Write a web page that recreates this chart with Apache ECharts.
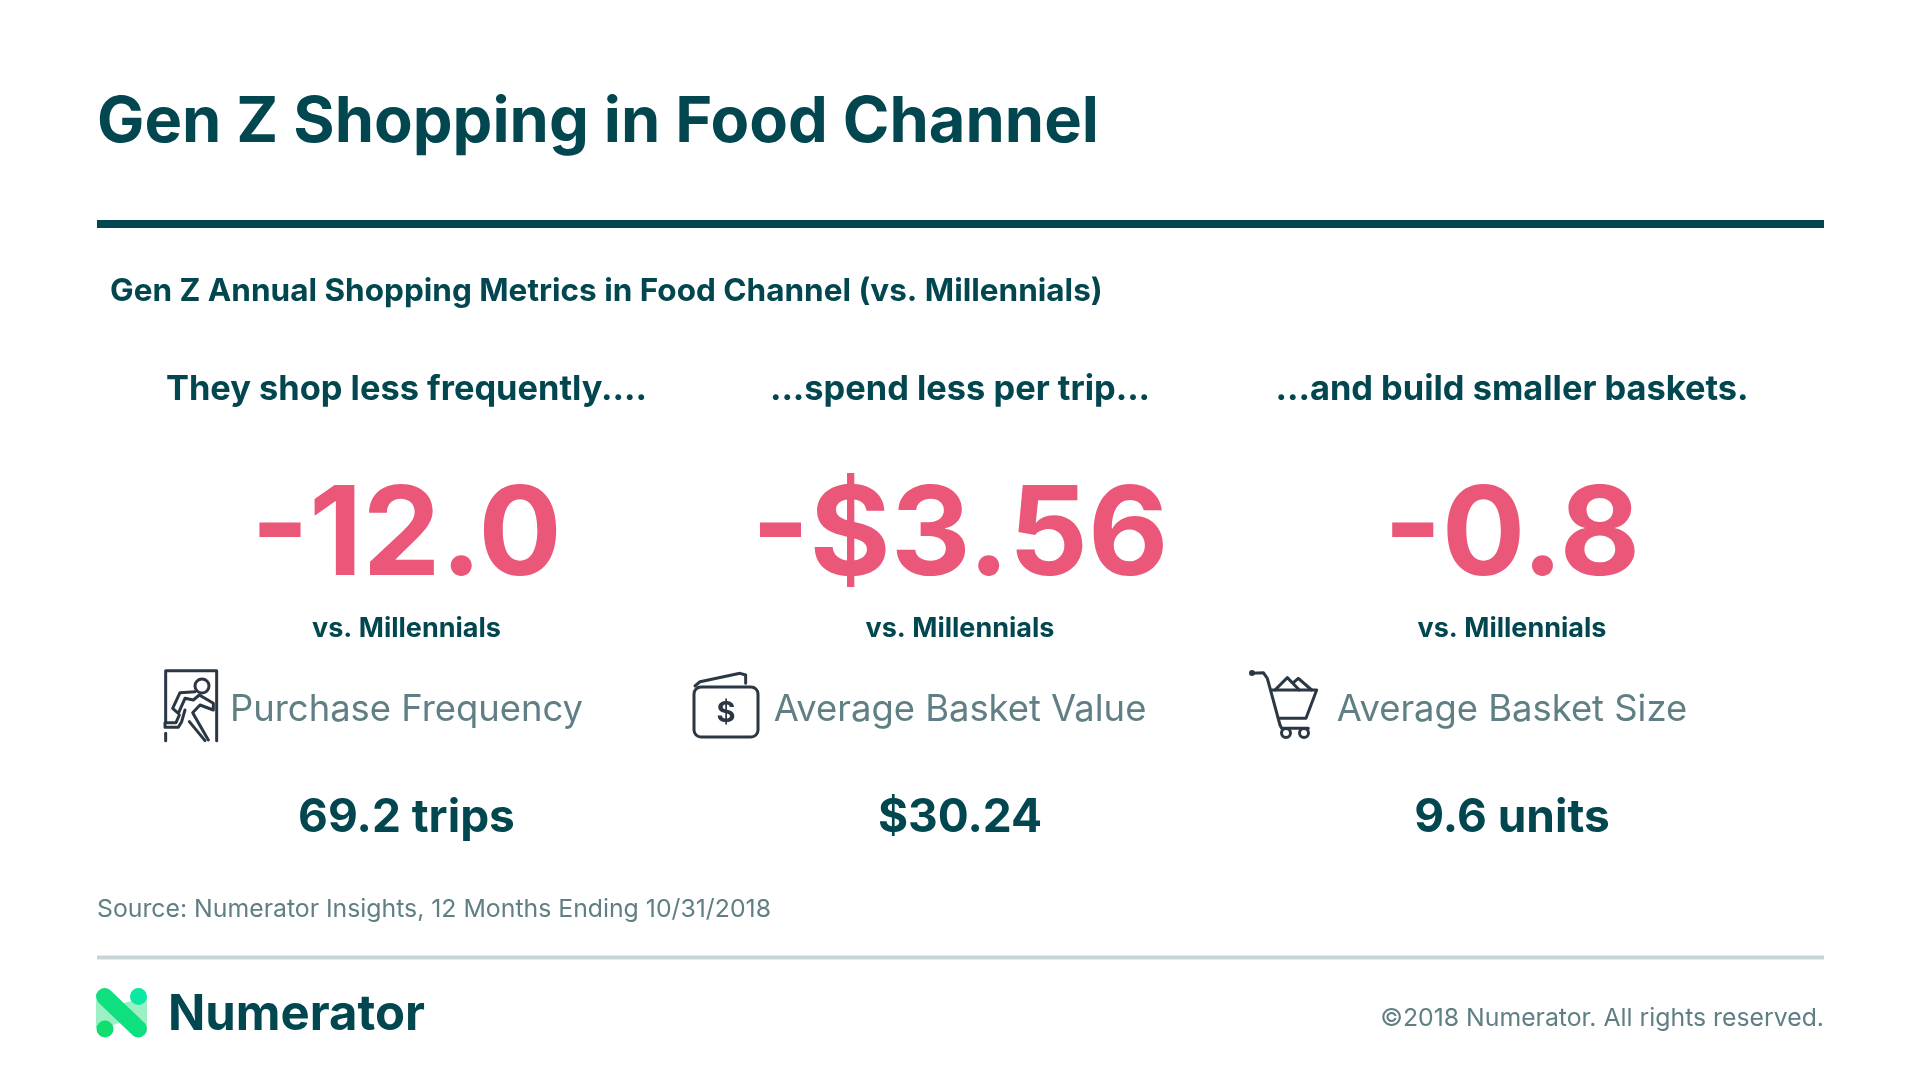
<!DOCTYPE html>
<html>
<head>
<meta charset="utf-8">
<title>Gen Z Shopping in Food Channel</title>
<script src="https://cdn.jsdelivr.net/npm/echarts@6/dist/echarts.min.js"></script>
<style>
  html, body { margin: 0; padding: 0; background: #fff; }
  #chart { width: 1920px; height: 1080px; }
</style>
</head>
<body>
<div id="chart"></div>
<script>
// values
const pageTitle = 'Gen Z Shopping in Food Channel';
const subTitle = 'Gen Z Annual Shopping Metrics in Food Channel (vs. Millennials)';
const columnHeads = ['They shop less frequently....', '...spend less per trip...', '...and build smaller baskets.'];
const deltas = ['-12.0', '-$3.56', '-0.8'];
const vsLabels = ['vs. Millennials', 'vs. Millennials', 'vs. Millennials'];
const metricNames = ['Purchase Frequency', 'Average Basket Value', 'Average Basket Size'];
const metricValues = ['69.2 trips', '$30.24', '9.6 units'];
const sourceNote = 'Source: Numerator Insights, 12 Months Ending 10/31/2018';
const copyright = '©2018 Numerator. All rights reserved.';
const brandName = 'Numerator';

const columnCenters = [406.5, 960, 1512];
const DARK = '#02474f';
const PINK = '#ea5778';
const GREY = '#5f7f84';
const ICON = '#2b3743';
const FONT = 'Inter, sans-serif';

function label(text, x, y, size, weight, fill, align) {
    return {
        type: 'text', x: x, y: y, silent: true,
        style: {
            text: text, fill: fill, align: align || 'center', verticalAlign: 'middle',
            textAlign: align || 'center', textVerticalAlign: 'middle',
            font: weight + ' ' + size + 'px ' + FONT
        }
    };
}

function pts(ox, oy, arr) {
    return arr.map(p => [ox + p[0] / 3, oy + p[1] / 3]);
}
function stroke(ox, oy, arr, width) {
    return {
        type: 'polyline', silent: true,
        shape: { points: pts(ox, oy, arr) },
        style: { stroke: ICON, fill: null, lineWidth: width || 3, lineJoin: 'round', lineCap: 'round' }
    };
}
function ringAt(cx, cy, r) {
    return {
        type: 'circle', silent: true, shape: { cx: cx, cy: cy, r: r },
        style: { stroke: ICON, fill: '#fff', lineWidth: 3 }
    };
}

const elements = [];

elements.push(label(pageTitle, 97, 123, 63.2, 700, DARK, 'left'));
elements.push({ type: 'rect', silent: true, shape: { x: 97, y: 220, width: 1727, height: 8 }, style: { fill: DARK } });
elements.push(label(subTitle, 110, 292, 31.5, 700, DARK, 'left'));

columnCenters.forEach((cx, i) => {
    elements.push(label(columnHeads[i], cx, 390, 34.4, 700, DARK));
    elements.push(label(deltas[i], cx, 538, 124, 700, PINK));
    elements.push(label(vsLabels[i], cx, 629, 27, 700, DARK));
    elements.push(label(metricNames[i], cx, 710, 36.4, 400, GREY));
    elements.push(label(metricValues[i], cx, 818, 46, 700, DARK));
});

elements.push(label(sourceNote, 97, 910, 24.8, 400, GREY, 'left'));
elements.push({ type: 'rect', silent: true, shape: { x: 97, y: 955.5, width: 1727, height: 4 }, style: { fill: '#c8d5d7' } });
elements.push(label(copyright, 1824, 1019, 24.8, 400, GREY, 'right'));
elements.push(label(brandName, 168, 1015, 49, 700, DARK, 'left'));

// exit icon
elements.push(stroke(150, 650, [[47, 215], [47, 62], [200, 62], [200, 272]]));
elements.push(stroke(150, 650, [[47, 250], [47, 272]]));
elements.push(ringAt(202, 686, 7));
elements.push(stroke(150, 650, [[135, 125], [90, 128], [68, 175], [85, 190], [105, 145], [130, 150], [148, 135], [190, 160], [190, 180], [150, 165], [128, 188], [175, 270]]));
elements.push(stroke(150, 650, [[105, 180], [95, 215], [85, 232], [45, 232], [45, 218], [78, 218], [88, 195]]));
elements.push(stroke(150, 650, [[118, 215], [165, 272]]));

// wallet icon
elements.push({
    type: 'rect', silent: true,
    shape: { x: 694, y: 687, width: 64, height: 50, r: 7 },
    style: { stroke: ICON, fill: '#fff', lineWidth: 3 }
});
elements.push(stroke(680, 650, [[45, 108], [60, 95], [180, 70], [197, 75], [197, 100]]));
elements.push({
    type: 'text', x: 726, y: 713, silent: true,
    style: { text: '$', fill: ICON, align: 'center', verticalAlign: 'middle', textAlign: 'center', textVerticalAlign: 'middle', font: '700 29px ' + FONT }
});

// cart icon
elements.push(stroke(1230, 650, [[65, 70], [100, 68], [112, 85], [150, 225], [155, 235], [235, 235]]));
elements.push(stroke(1230, 650, [[125, 120], [260, 120], [228, 205], [145, 205]]));
elements.push(stroke(1230, 650, [[135, 120], [172, 83], [208, 120]]));
elements.push(stroke(1230, 650, [[190, 98], [205, 85], [245, 120]]));
elements.push({ type: 'circle', silent: true, shape: { cx: 1252, cy: 673, r: 3 }, style: { fill: ICON } });
elements.push(ringAt(1286, 733, 4.5));
elements.push(ringAt(1304, 733, 4.5));

// logo
elements.push({ type: 'polygon', silent: true, shape: { points: [[96, 1000], [96, 1028], [105, 1028], [122, 1022]] }, style: { fill: '#9cf0c6' } });
elements.push({ type: 'polygon', silent: true, shape: { points: [[147, 997], [147, 1028], [138, 1028], [120, 1004]] }, style: { fill: '#9cf0c6' } });
elements.push({ type: 'line', silent: true, shape: { x1: 104.5, y1: 996.5, x2: 138.5, y2: 1029 }, style: { stroke: '#0fe07f', lineWidth: 17, lineCap: 'round' } });
elements.push({ type: 'circle', silent: true, shape: { cx: 138.5, cy: 996.5, r: 8.5 }, style: { fill: '#0be8a4' } });
elements.push({ type: 'circle', silent: true, shape: { cx: 105, cy: 1029, r: 8.5 }, style: { fill: '#12de70' } });

const chart = echarts.init(document.getElementById('chart'));
chart.setOption({
    backgroundColor: '#ffffff',
    animation: false,
    graphic: { elements: elements }
});
</script>
</body>
</html>
